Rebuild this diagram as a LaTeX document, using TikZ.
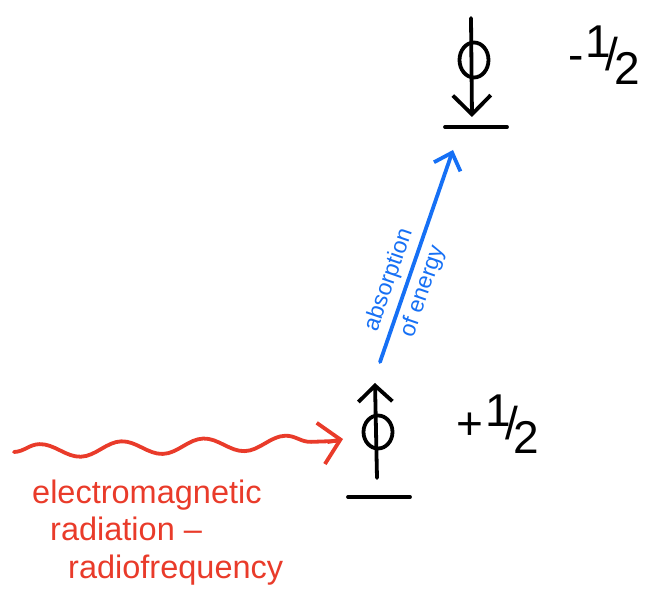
\documentclass[tikz,border=0pt]{standalone}
\usepackage{fontspec}
\setmainfont{Liberation Sans}
\usetikzlibrary{arrows.meta,decorations.pathmorphing,shapes.geometric}
\definecolor{penred}{RGB}{233,59,42}
\definecolor{penblue}{RGB}{22,112,245}
\newcommand{\halfspin}[1]{#1\kern0.05em\raisebox{0.3em}{1}\kern-0.12em/\kern-0.1em\raisebox{-0.3em}{2}}
\begin{document}
\begin{tikzpicture}[x=1pt, y=-1pt, line cap=round, line join=round,
    pen/.style={line width=3.8pt},
    level/.style={pen, black},
    spinring/.style={draw, pen, ellipse, inner sep=0pt, minimum width=29pt, minimum height=33pt},
    spinlbl/.style={inner sep=0pt, font=\fontsize{46}{50}\selectfont},
    redtxt/.style={anchor=base west, inner sep=0pt, text=penred, font=\fontsize{32.5}{36}\selectfont}]
  \useasboundingbox (0,0) rectangle (654,604);
  % lower level, spin up
  \coordinate (L1) at (348,497); \coordinate (L2) at (410,497);
  \draw[level] (L1) -- (L2);
  \coordinate (Ub) at (377,478); \coordinate (Ut) at (375,383);
  \draw[pen, -{Straight Barb[length=16pt, width=34pt, line width=3.8pt]}] (Ub) -- (Ut);
  \node[spinring] (Uring) at (378,432) {};
  \node[spinlbl] (plus) at (498,424) {\halfspin{+}};
  % upper level, spin down
  \coordinate (H1) at (445,127); \coordinate (H2) at (507,127);
  \draw[level] (H1) -- (H2);
  \coordinate (Dt) at (471,18); \coordinate (Db) at (472,117);
  \draw[pen, -{Straight Barb[length=19pt, width=38pt, line width=3.8pt]}] (Dt) -- (Db);
  \node[spinring, minimum height=35pt] (Dring) at (474,60) {};
  \node[spinlbl] (minus) at (604,55) {\halfspin{-}};
  % absorption
  \coordinate (A0) at (380,362); \coordinate (A1) at (453,150);
  \draw[pen, penblue, -{Straight Barb[length=15pt, width=28pt, line width=3.8pt]}] (A0) -- (A1)
    node[pos=0.36, sloped, align=center, text=penblue, inner sep=0pt,
         font=\fontsize{23}{36}\selectfont] (abs) {absorption\\of energy};
  % radiation
  \coordinate (W0) at (14,452);
  \draw[pen, penred, decorate, decoration={snake, amplitude=7pt, segment length=82pt, post length=14pt}]
    (W0) -- (336,441);
  \coordinate (W1) at (343,439);
  \draw[pen, penred, -{Straight Barb[length=20pt, width=42pt, line width=3.8pt]}] (328,442) -- (W1);
  \node[redtxt] (em1) at (32,503) {electromagnetic};
  \node[redtxt] (em2) at (50,540) {radiation –};
  \node[redtxt] (em3) at (68,578) {radiofrequency};
\end{tikzpicture}
\end{document}
